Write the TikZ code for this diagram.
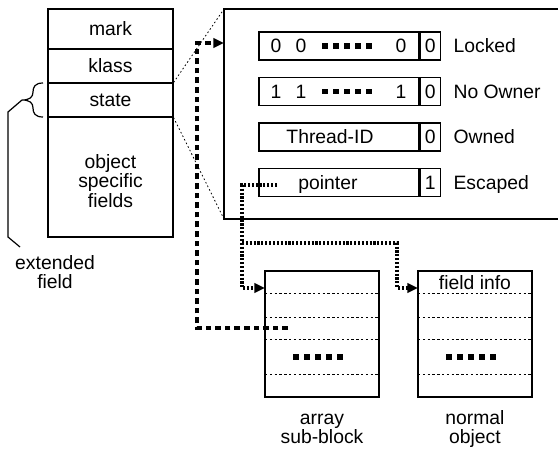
\documentclass[tikz,border=0pt]{standalone}
\usepackage{fontspec}
\setmainfont{Liberation Sans}
\usetikzlibrary{arrows.meta}
\def\pxu{0.75pt}

\begin{document}
\begin{tikzpicture}[x=0.75pt, y=-0.75pt, line width=0.9pt,
	every node/.style={font=\fontsize{14.5}{14.8}\selectfont, inner sep=0pt},
	txt/.style={text height=10.4pt, text depth=0pt},
	cell/.style={draw, line width=0.9pt},
	zoomline/.style={line width=0.6pt, dash pattern=on 1.2pt off 1.8pt},
	slotline/.style={line width=0.6pt, dash pattern=on 1.8pt off 1.8pt},
	lockref/.style={line width=2.5pt, dash pattern=on 4.2pt off 3pt, -{Triangle[length=8pt,width=7pt]}},
	ptrref/.style={line width=2.5pt, dash pattern=on 1.6pt off 1.3pt, -{Triangle[length=8pt,width=7pt]}},
	squares/.style={line width=4.2pt, dash pattern=on 4.2pt off 4.1pt}]
		%%%%% START %%%%%
		\useasboundingbox (0,0) rectangle (558,450);
		
		% object header
		\node[cell, minimum width=125*\pxu, minimum height=40*\pxu] (mark) at (110.5,29) {};
		\node[txt] at (mark) {mark};
		\node[cell, minimum width=125*\pxu, minimum height=34*\pxu] (klass) at (110.5,66) {};
		\node[txt] at (klass) {klass};
		\node[cell, minimum width=125*\pxu, minimum height=34*\pxu] (state) at (110.5,100) {};
		\node[txt] at (state) {state};
		\node[cell, minimum width=125*\pxu, minimum height=120*\pxu] (fields) at (110.5,177) {};
		\node[align=center] (fieldstxt) at (110.5,181) {object\\specific\\fields};
		
		% brace and its lead
		\coordinate (bracetip) at (22,100);
		\draw (43,83) .. controls (35,83) and (33,87) .. (33,92) .. controls (33,97) and (30,100) .. (bracetip)
			.. controls (30,100) and (33,103) .. (33,108) .. controls (33,113) and (35,117) .. (43,117);
		\node[align=center] (ext) at (55,272) {extended\\field};
		\coordinate (extend) at (20,247);
		\draw (bracetip) -- (8,112) -- (8,237) -- (extend);
		
		% state word, blown up
		\coordinate (zoomtop) at (224,9);
		\coordinate (zoombot) at (224,219);
		\coordinate (lockin) at (224,43);
		\draw (558,9) -- (zoomtop) -- (zoombot) -- (558,219);
		\draw[zoomline] (state.north east) -- (zoomtop);
		\draw[zoomline] (state.south east) -- (zoombot);
		
		\node[cell, minimum width=160*\pxu, minimum height=28*\pxu] (lockw) at (339,46) {};
		\node[cell, minimum width=20*\pxu, minimum height=28*\pxu, anchor=west, txt] (lockb) at (lockw.east) {0};
		\node[txt] at (276,46) {0};
		\node[txt] at (301,46) {0};
		\draw[squares] (322,46) -- (372,46);
		\node[txt] at (401,46) {0};
		\node[txt, anchor=west] (locked) at (453,46) {Locked};
		
		\node[cell, minimum width=160*\pxu, minimum height=28*\pxu] (freew) at (339,91.5) {};
		\node[cell, minimum width=20*\pxu, minimum height=28*\pxu, anchor=west, txt] (freeb) at (freew.east) {0};
		\node[txt] at (276,91.5) {1};
		\node[txt] at (301,91.5) {1};
		\draw[squares] (322,91.5) -- (372,91.5);
		\node[txt] at (401,91.5) {1};
		\node[txt, anchor=west] (noowner) at (453,91.5) {No Owner};
		
		\node[cell, minimum width=160*\pxu, minimum height=28*\pxu] (ownw) at (339,137) {};
		\node[cell, minimum width=20*\pxu, minimum height=28*\pxu, anchor=west, txt] (ownb) at (ownw.east) {0};
		\node[txt] at (330,137) {Thread-ID};
		\node[txt, anchor=west] (owned) at (453,137) {Owned};
		
		\node[cell, minimum width=160*\pxu, minimum height=28*\pxu] (escw) at (339,182.5) {};
		\node[cell, minimum width=20*\pxu, minimum height=28*\pxu, anchor=west, txt] (escb) at (escw.east) {1};
		\node[txt] at (328,182.5) {pointer};
		\node[txt, anchor=west] (escaped) at (453,182.5) {Escaped};
		
		% escaped targets
		\node[cell, minimum width=114*\pxu, minimum height=126*\pxu] (arr) at (322,334) {};
		\draw[slotline] (265,293) -- (379,293);
		\draw[slotline] (265,317) -- (379,317);
		\draw[slotline] (265,339) -- (379,339);
		\draw[slotline] (265,374) -- (379,374);
		\draw[squares] (293,357) -- (345,357);
		\node[align=center] (arrlabel) at (322,429) {array\\sub-block};
		
		\node[cell, minimum width=114*\pxu, minimum height=126*\pxu] (obj) at (475,334) {};
		\node[txt] (finfo) at (475,282.5) {field info};
		\draw[slotline] (418,293) -- (532,293);
		\draw[slotline] (418,317) -- (532,317);
		\draw[slotline] (418,339) -- (532,339);
		\draw[slotline] (418,374) -- (532,374);
		\draw[squares] (446,357) -- (498,357);
		\node[align=center] (objlabel) at (475,429) {normal\\object};
		
		% references
		\coordinate (ptrout) at (277,185);
		\coordinate (branch) at (242,243);
		\coordinate (arrin) at (265,288);
		\coordinate (objin) at (418,288);
		\coordinate (slotref) at (288,328);
		\draw[ptrref] (ptrout) -- ++(-35,0) |- (arrin);
		\draw[ptrref] (branch) -| ++(155,45) -- (objin);
		\draw[lockref] (slotref) -- ++(-91,0) |- (lockin);
		
		%%%%% END %%%%%
\end{tikzpicture}
\end{document}
